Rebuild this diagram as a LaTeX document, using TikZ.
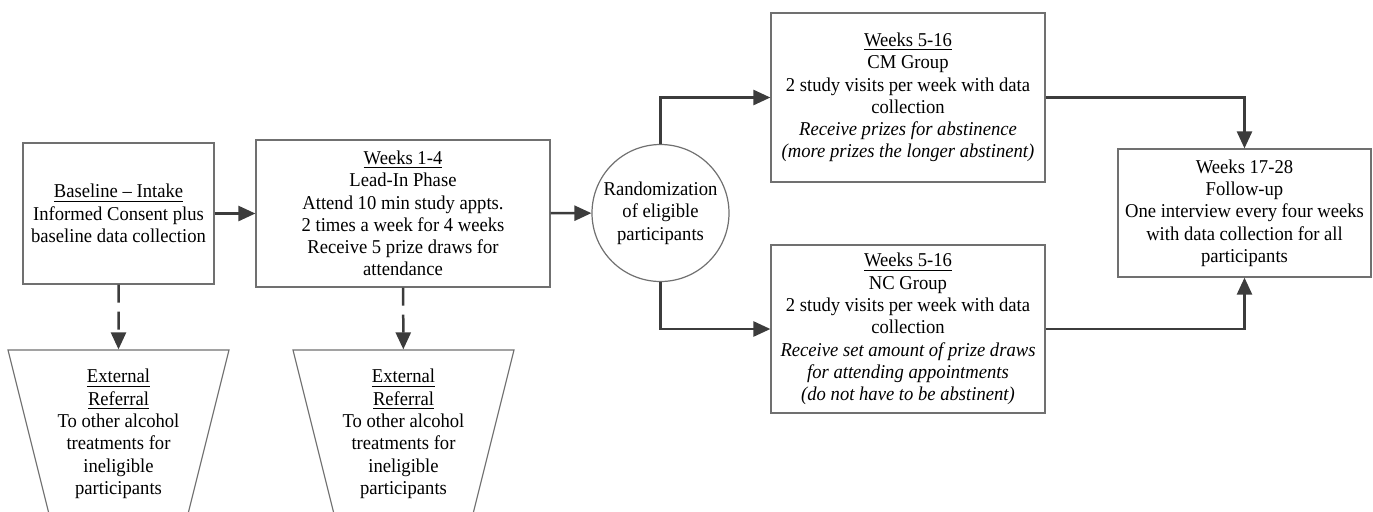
\documentclass[tikz,border=0pt]{standalone}
\usepackage{fontspec}
\setmainfont{Liberation Serif}[FakeStretch=0.95]
\usetikzlibrary{arrows.meta,shapes.geometric}

\definecolor{boxgray}{HTML}{707070}
\definecolor{arrowgray}{HTML}{3C3C3C}

\tikzset{
  box/.style={draw=boxgray, line width=0.6pt, rectangle, align=center, inner sep=0pt},
  roundbox/.style={draw=boxgray, line width=0.6pt, circle, align=center, inner sep=0pt, minimum size=68.5pt},
  refbox/.style={draw=boxgray, line width=0.6pt, trapezium, shape border rotate=180,
    trapezium angle=72, trapezium stretches body, align=center, inner sep=0pt,
    minimum width=110.5pt, minimum height=84pt},
  flow/.style={draw=arrowgray, line width=1.25pt, -{Triangle[length=8.5pt,width=7.5pt]}},
  refer/.style={flow, dash pattern=on 9pt off 4.5pt},
}

\begin{document}
\begin{tikzpicture}[x=0.5pt, y=-0.5pt, font=\fontsize{9.8}{11.15}\selectfont]
    \useasboundingbox (0,0) rectangle (1373,511);

    % Intake and lead-in
    \node (base) at (118.5,213.5) [box, minimum width=95.5pt, minimum height=70.5pt]
        {\underline{Baseline -- Intake}\\Informed Consent plus\\baseline data collection};
    \node (leadin) at (403,213.5) [box, minimum width=147pt, minimum height=73.5pt]
        {\underline{Weeks 1-4}\\Lead-In Phase\\Attend 10 min study appts.\\2 times a week for 4 weeks\\Receive 5 prize draws for\\attendance};

    % Randomization
    \node (rand) at (660.5,213) [roundbox] {Randomization\\of eligible\\participants};

    % Two groups
    \node (cm) at (908,97.5) [box, minimum width=137pt, minimum height=84.5pt]
        {\underline{Weeks 5-16}\\CM Group\\2 study visits per week with data\\collection\\
         \textit{Receive prizes for abstinence}\\\textit{(more prizes the longer abstinent)}};
    \node (nc) at (908,329) [box, minimum width=137pt, minimum height=84pt]
        {\underline{Weeks 5-16}\\NC Group\\2 study visits per week with data\\collection\\
         \textit{Receive set amount of prize draws}\\\textit{for attending appointments}\\\textit{(do not have to be abstinent)}};

    % Follow-up
    \node (fu) at (1244.5,213) [box, minimum width=126.5pt, minimum height=64pt]
        {Weeks 17-28\\Follow-up\\One interview every four weeks\\with data collection for all\\participants};

    % External referrals
    \node (ref1) at (118.5,434) [refbox]
        {\underline{External}\\\underline{Referral}\\To other alcohol\\treatments for\\ineligible\\participants};
    \node (ref2) at (403.5,434) [refbox]
        {\underline{External}\\\underline{Referral}\\To other alcohol\\treatments for\\ineligible\\participants};

    % Arrows
    \draw[flow] (base) -- (leadin);
    \draw[flow] (leadin) -- (rand);
    \draw[flow] (rand.north) |- (cm.west);
    \draw[flow] (rand.south) |- (nc.west);
    \draw[flow] (cm.east) -| (fu.north);
    \draw[flow] (nc.east) -| (fu.south);
    \draw[refer] (base) -- (ref1);
    \draw[refer] (leadin) -- (ref2);

\end{tikzpicture}
\end{document}
